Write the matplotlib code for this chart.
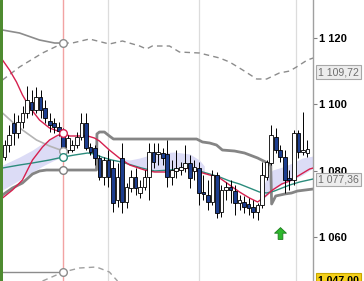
import matplotlib
matplotlib.use('Agg')
import matplotlib.pyplot as plt
import matplotlib.transforms as mtransforms
from matplotlib.path import Path
from matplotlib.patches import Rectangle
import numpy as np

plt.rcParams['font.family'] = ['Liberation Sans', 'DejaVu Sans']

# ---------------- candle data (OHLC) ----------------
opens = [1084.12, 1087.74, 1094.37, 1091.36, 1094.67, 1097.39, 1100.71, 1098.29, 1102.21, 1098.90,
         1094.98, 1094.37, 1093.17, 1091.66, 1086.23, 1086.23, 1087.74, 1090.15, 1094.37, 1087.14,
         1086.84, 1083.82, 1078.09, 1083.22, 1080.81, 1071.16, 1083.82, 1070.56, 1074.78, 1078.09,
         1073.27, 1075.08, 1078.09, 1085.63, 1085.03, 1085.33, 1085.03, 1078.09, 1079.90, 1080.20,
         1080.81, 1082.32, 1079.90, 1080.81, 1073.57, 1072.67, 1070.56, 1078.70, 1067.54, 1074.18,
         1075.08, 1073.87, 1070.26, 1070.56, 1069.96, 1069.05, 1067.54, 1069.65, 1078.09, 1082.32,
         1090.15, 1086.23, 1084.12, 1077.79, 1077.19, 1091.36, 1085.63, 1085.33]
highs = [1089.25, 1093.77, 1097.39, 1096.79, 1099.50, 1105.53, 1104.32, 1105.23, 1104.32, 1101.31,
         1097.39, 1095.88, 1094.67, 1092.87, 1090.76, 1089.25, 1091.66, 1097.39, 1097.39, 1088.34,
         1087.74, 1084.73, 1084.12, 1086.23, 1083.22, 1082.32, 1088.34, 1076.29, 1080.20, 1080.81,
         1077.19, 1080.20, 1088.34, 1088.34, 1088.34, 1086.84, 1089.25, 1083.22, 1086.23, 1082.62,
         1087.74, 1084.73, 1083.22, 1082.62, 1078.70, 1077.19, 1080.20, 1079.60, 1075.68, 1076.59,
         1077.19, 1075.68, 1072.67, 1072.37, 1071.76, 1071.16, 1070.26, 1082.62, 1083.22, 1093.77,
         1092.87, 1087.74, 1086.23, 1080.20, 1092.26, 1092.26, 1097.69, 1089.25]
lows = [1083.22, 1085.63, 1087.74, 1089.85, 1092.87, 1095.88, 1096.79, 1097.39, 1095.88, 1094.37,
        1091.66, 1091.36, 1090.46, 1084.12, 1085.33, 1085.63, 1086.84, 1089.25, 1086.23, 1084.73,
        1081.71, 1077.19, 1075.68, 1075.08, 1067.54, 1069.05, 1067.24, 1068.75, 1073.57, 1072.67,
        1071.76, 1074.18, 1071.16, 1080.81, 1081.71, 1081.71, 1075.08, 1075.68, 1077.79, 1078.70,
        1079.60, 1074.78, 1077.19, 1069.65, 1071.16, 1068.15, 1069.65, 1065.73, 1066.04, 1071.16,
        1070.26, 1066.64, 1068.15, 1067.24, 1066.64, 1065.73, 1065.13, 1068.75, 1077.19, 1081.71,
        1085.33, 1082.62, 1073.27, 1074.18, 1075.68, 1083.82, 1084.73, 1084.12]
closes = [1087.74, 1090.76, 1091.36, 1094.67, 1097.39, 1101.31, 1098.29, 1102.21, 1098.29, 1095.88,
          1093.77, 1093.17, 1091.96, 1086.23, 1089.85, 1087.74, 1090.15, 1094.37, 1086.84, 1085.63,
          1083.82, 1078.09, 1083.22, 1078.09, 1070.26, 1078.09, 1070.56, 1075.08, 1078.09, 1074.78,
          1075.08, 1078.09, 1085.63, 1082.62, 1085.63, 1083.82, 1078.09, 1080.20, 1080.81, 1081.11,
          1082.32, 1077.79, 1081.11, 1073.27, 1072.97, 1070.56, 1078.70, 1067.24, 1074.18, 1075.08,
          1074.18, 1070.26, 1071.16, 1069.05, 1068.75, 1067.54, 1069.65, 1078.70, 1082.62, 1090.76,
          1086.23, 1084.12, 1077.19, 1077.19, 1091.36, 1085.63, 1086.23, 1086.53]

# ---------------- indicator lines (candle index, price) ----------------
red_x = [-0.44, 1.11, 2.65, 3.98, 5.53, 7.74, 9.96, 13.0, 14.4, 16.6, 18.4, 19.9, 21.0, 23.2, 25.4,
         27.7, 31.0, 33.2, 36.5, 40.3, 43.1, 45.4, 47.6, 49.8, 52.0, 54.2, 56.0, 57.5, 59.3, 61.3,
         63.1, 65.3, 67.5, 68.3]
red_y = [1113.37, 1110.35, 1106.74, 1102.82, 1099.20, 1095.28, 1092.87, 1091.36, 1090.46, 1090.46,
         1090.46, 1089.85, 1088.95, 1086.23, 1083.82, 1081.71, 1080.20, 1079.60, 1079.60, 1080.81,
         1079.60, 1078.70, 1077.79, 1075.68, 1073.57, 1071.76, 1070.56, 1072.06, 1074.18, 1075.98,
         1076.89, 1078.70, 1080.50, 1080.81]

red2_x = [-0.44, 1.77, 3.98, 6.19, 8.41, 9.96, 11.5, 13.0]
red2_y = [1071.76, 1074.18, 1077.19, 1083.22, 1087.14, 1089.25, 1090.46, 1091.36]

teal_x = [-0.44, 3.32, 6.19, 9.96, 13.0, 15.5, 18.4, 19.9, 21.5, 23.7, 25.9, 28.1, 30.3, 33.2, 36.5,
          40.3, 43.1, 45.4, 47.6, 49.8, 52.0, 54.2, 56.4, 58.0, 59.7, 63.1, 65.3, 68.3]
teal_y = [1080.81, 1081.71, 1082.32, 1083.22, 1084.12, 1084.73, 1085.33, 1085.03, 1084.12, 1083.22,
          1082.62, 1081.71, 1080.81, 1079.90, 1080.20, 1080.81, 1079.90, 1079.00, 1078.09, 1076.89,
          1075.98, 1074.78, 1073.57, 1073.27, 1073.87, 1075.68, 1076.59, 1077.50]

lgray_x = [-0.44, 1.77, 3.98, 7.08, 9.96, 13.0]
lgray_y = [1097.39, 1094.67, 1092.26, 1089.25, 1087.44, 1085.93]

kijun_x = [-0.44, 1.77, 3.98, 6.19, 7.74, 9.29, 13.0, 20.35, 20.45, 21.0, 22.1, 23.2, 24.1, 42.5,
           43.8, 45.4, 46.9, 48.2, 50.9, 53.1, 56.0, 58.2, 58.9, 59.1, 60.0, 62.0, 63.5, 64.8, 68.3]
kijun_y = [1072.67, 1074.78, 1076.29, 1079.00, 1079.90, 1080.20, 1080.20, 1080.20, 1091.06, 1091.66,
           1091.66, 1090.46, 1089.55, 1089.55, 1088.65, 1088.34, 1087.74, 1086.23, 1085.93, 1085.33,
           1083.82, 1082.32, 1081.71, 1069.96, 1072.37, 1072.97, 1073.27, 1073.87, 1074.48]

top_x = [-0.44, 3.32, 7.74, 11.1, 13.0]
top_y = [1122.41, 1121.51, 1119.40, 1118.49, 1118.49]

dash_low_x = [-0.44, 3.32, 8.41, 13.0]
dash_low_y = [1107.34, 1111.26, 1115.48, 1118.49]

dash_up_x = [13.0, 15.0, 18.8, 23.2, 26.1, 29.9, 31.4, 32.7, 36.5, 38.7, 43.1, 47.6, 49.8, 52.7,
             55.8, 58.0, 60.8, 63.1, 64.6, 67.0, 68.3]
dash_up_y = [1118.49, 1118.49, 1119.70, 1118.19, 1119.10, 1117.59, 1116.68, 1117.59, 1117.59,
             1115.78, 1115.48, 1113.97, 1112.76, 1110.35, 1107.64, 1107.64, 1109.45, 1110.05,
             1111.26, 1113.37, 1113.97]

bot_x = [-0.44, 13.0]
bot_y = [1049.45, 1049.45]

arc_x = [8.41, 9.96, 13.0, 16.6, 20.35, 23.2, 25.0]
arc_y = [1046.74, 1047.64, 1049.45, 1050.66, 1050.96, 1049.45, 1046.74]

# cloud fills
fillL_x = [-0.44, 3.32, 6.19, 8.85, 11.1, 13.0]
fillL_top = [1081.71, 1084.12, 1086.23, 1088.65, 1090.15, 1091.06]
fillL_bot = [1074.18, 1077.19, 1079.60, 1081.71, 1083.22, 1084.12]

fillM_x = [25.4, 27.7, 29.9, 32.1, 34.3, 37.6, 41.0, 43.1, 44.2]
fillM_top = [1083.82, 1083.22, 1083.82, 1084.73, 1085.33, 1085.63, 1085.03, 1083.22, 1081.41]
fillM_bot = [1082.62, 1082.02, 1081.11, 1080.20, 1079.90, 1080.20, 1080.81, 1079.90, 1079.60]

fillR_x = [56.9, 58.2, 59.3, 61.5, 63.7, 65.9, 68.3]
fillR_top = [1074.18, 1078.39, 1080.20, 1081.11, 1082.32, 1083.82, 1084.43]
fillR_bot = [1071.16, 1072.67, 1074.18, 1075.98, 1077.19, 1078.70, 1080.81]

marker_x = 13.0
marker_y = [1118.49, 1091.36, 1085.93, 1084.12, 1080.20, 1049.45]
marker_ec = ['#8C8C8C', '#D6204E', '#9A9A9A', '#2B8C7C', '#808080', '#8C8C8C']

signal_idx = [60.85]
signal_price = [1061.2]

grid_x = [22.9, 43.0, 64.5]
cursor_x = 13.0

yticks = [1060, 1080, 1100, 1120]
ytick_labels = ['1 060', '1 080', '1 100', '1 120']
last_labels = [(1109.72, '1 109,72'), (1077.36, '1 077,36')]
price_label = (1046.95, '1 047,00')

# ---------------- figure ----------------
fig = plt.figure(figsize=(3.64, 2.81), dpi=100)
fig.patch.set_facecolor('white')
fig.add_artist(Rectangle((0, 0), 3 / 364, 1, transform=fig.transFigure,
                         color='#4E8B30', zorder=0))
ax = fig.add_axes([3 / 364, 0, 310 / 364, 1])
ax.set_xlim(-0.332, 68.25)
ax.set_ylim(1046.74, 1131.46)

for gx in grid_x:
    ax.axvline(gx, color='#DCDCDC', lw=0.9, zorder=0)
ax.axvline(cursor_x, color='#F2A3A3', lw=1.0, zorder=0.5)

ax.fill_between(fillL_x, fillL_bot, fillL_top, color='#DCDCF6', lw=0, zorder=1)
ax.fill_between(fillM_x, fillM_bot, fillM_top, color='#DCDCF6', lw=0, zorder=1)
ax.fill_between(fillR_x, fillR_bot, fillR_top, color='#DCDCF6', lw=0, zorder=1)

ax.plot(lgray_x, lgray_y, color='#B4B4B4', lw=1.2, zorder=2)
ax.plot(kijun_x, kijun_y, color='#858585', lw=2.0, zorder=2, solid_joinstyle='round')
ax.plot(top_x, top_y, color='#8C8C8C', lw=1.2, zorder=2)
ax.plot(dash_low_x, dash_low_y, color='#8C8C8C', lw=1.0, dashes=(4, 3), zorder=2)
ax.plot(dash_up_x, dash_up_y, color='#8C8C8C', lw=1.0, dashes=(4, 3), zorder=2)
ax.plot(bot_x, bot_y, color='#8C8C8C', lw=1.0, zorder=2)
ax.plot(arc_x, arc_y, color='#A0A0A0', lw=1.0, dashes=(4, 3), zorder=2)
ax.plot(teal_x, teal_y, color='#2B8C7C', lw=1.0, zorder=3)
ax.plot(red2_x, red2_y, color='#D6204E', lw=1.0, zorder=3)
ax.plot(red_x, red_y, color='#D6204E', lw=1.0, zorder=3)

# candles
o = np.array(opens); h = np.array(highs); l = np.array(lows); c = np.array(closes)
idx = np.arange(len(o))
up = c >= o
ax.vlines(idx, l, h, color='black', lw=0.7, zorder=4)
bb = np.minimum(o, c)
bh = np.maximum(np.abs(c - o), 0.3)
ax.bar(idx[up], bh[up], bottom=bb[up], width=0.8, color='white', edgecolor='black',
       lw=0.6, zorder=5)
ax.bar(idx[~up], bh[~up], bottom=bb[~up], width=0.8, color='#1C3D8E', edgecolor='black',
       lw=0.6, zorder=5)

for my, ec in zip(marker_y, marker_ec):
    ax.plot([marker_x], [my], marker='o', ms=5.5, mfc='white', mec=ec, mew=1.0,
            ls='none', zorder=6, clip_on=False)

arrow = Path([(0, 1), (1, 0.05), (0.4, 0.05), (0.4, -1), (-0.4, -1), (-0.4, 0.05),
              (-1, 0.05), (0, 1)],
             [Path.MOVETO] + [Path.LINETO] * 6 + [Path.CLOSEPOLY])
ax.plot(signal_idx, signal_price, marker=arrow, ms=8.5, mfc='#2DB82D', mec='#1E7A1E',
        mew=0.6, ls='none', zorder=7)

# axes styling
for s in ['top', 'left', 'bottom']:
    ax.spines[s].set_visible(False)
ax.spines['right'].set_color('#A0A0A0')
ax.spines['right'].set_linewidth(1.0)
ax.set_xticks([])
ax.yaxis.tick_right()
ax.set_yticks(yticks)
ax.set_yticklabels(ytick_labels, fontweight='bold', fontsize=8)
ax.tick_params(axis='y', length=3, width=0.8, color='#808080', pad=1.5, labelcolor='black')

trans = mtransforms.blended_transform_factory(ax.transAxes, ax.transData)
for val, txt in last_labels:
    ax.text(1.017, val, txt, transform=trans, fontsize=7.6, color='#6E6E6E', va='center',
            ha='left', bbox=dict(boxstyle='square,pad=0.18', fc='#EDEDED', ec='#A8A8A8', lw=0.8),
            clip_on=False, zorder=10)
ax.text(1.017, price_label[0], price_label[1], transform=trans, fontsize=7.6, color='black',
        fontweight='bold', va='center', ha='left',
        bbox=dict(boxstyle='square,pad=0.18', fc='#F5D11A', ec='#C9A800', lw=0.8),
        clip_on=False, zorder=10)

fig.savefig('out.png', dpi=100, facecolor='white')
